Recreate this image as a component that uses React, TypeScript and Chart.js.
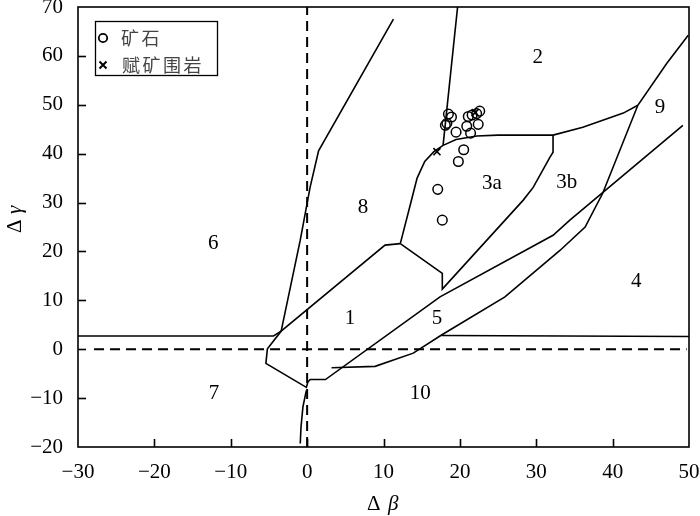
import React, { useEffect, useRef } from "react";
import { Chart, registerables } from "chart.js";

Chart.register(...registerables);

// ---- axes ----
const X_MIN = -30;
const X_MAX = 50;
const Y_MIN = -20;
const Y_MAX = 70;
const TICK_STEP = 10;

// ---- samples ----
const oreX = [18.5, 18.9, 18.1, 18.3, 19.5, 21.1, 21.6, 22.2, 22.6, 22.4, 20.9, 21.4, 20.5, 19.8, 17.1, 17.7];
const oreY = [48.1, 47.5, 45.8, 46.2, 44.4, 47.6, 47.9, 48.2, 48.7, 46.0, 45.6, 44.2, 40.8, 38.4, 32.7, 26.4];
const rockX = [17.0, 22.0];
const rockY = [40.4, 48.4];

// ---- boundary lines ----
const lineAX = [11.3, 1.5, 0.4, -0.9, -3.4];
const lineAY = [67.5, 40.6, 33.2, 22.3, 3.7];
const line7TopX = [-30, -4.4, -3.4];
const line7TopY = [2.7, 2.7, 3.7];
const lineD1X = [12.2, 10.2, -3.4, -5.2, -5.4, -0.1, 0.1, 0.4, 2.4, 17.4, 32.2, 34.4, 49.2];
const lineD1Y = [21.6, 21.3, 3.7, 0.1, -2.9, -7.8, -6.7, -6.2, -6.2, 10.7, 23.3, 26.4, 45.8];
const lineVX = [12.2, 17.7, 17.7, 28.3, 29.6, 31.8, 32.2, 32.2];
const lineVY = [21.6, 15.5, 12.3, 30.5, 33.1, 39.3, 40.3, 43.8];
const lineTopX = [17.8, 19.5, 22.2, 25.0, 32.2, 36.1, 41.4, 43.3];
const lineTopY = [41.7, 42.9, 43.6, 43.8, 43.8, 45.4, 48.3, 49.9];
const line3aLeftX = [17.8, 16.6, 15.4, 14.4, 13.5, 12.2];
const line3aLeftY = [41.7, 40.4, 38.4, 35.0, 29.5, 21.6];
const lineVertX = [19.7, 17.8];
const lineVertY = [70, 41.7];
const line10TopX = [3.2, 8.9, 13.9, 17.6, 25.9, 33.1, 36.4, 38.7, 43.3, 47.1, 49.9];
const line10TopY = [-3.8, -3.5, -0.8, 2.9, 10.7, 20.2, 25.0, 31.9, 49.9, 58.5, 64.2];
const line4BottomX = [17.6, 50];
const line4BottomY = [2.8, 2.6];
const line7CurveX = [-0.1, -0.55, -0.8, -0.9];
const line7CurveY = [-8.4, -11.8, -15.9, -19.3];
const dashVX = [0, 0];
const dashVY = [-20, 70];
const dashHX = [-27.9, 49.7];
const dashHY = [0, 0];

// ---- region labels ----
const regionNames = ["2", "9", "3a", "3b", "8", "6", "4", "1", "5", "7", "10"];
const regionX = [30.2, 46.2, 24.2, 34.0, 7.3, -12.3, 43.1, 5.6, 17.0, -12.2, 14.8];
const regionY = [59.7, 49.5, 33.9, 34.2, 29.0, 21.7, 13.9, 6.3, 6.3, -9.0, -9.0];

const legendNames = ["矿石", "赋矿围岩"];

const SERIF = "'Liberation Serif', 'Times New Roman', serif";
const CJK = "'Noto Sans CJK SC', sans-serif";

function pts(xs: number[], ys: number[]) {
  return xs.map((x, i) => ({ x, y: ys[i] }));
}

function lineDs(xs: number[], ys: number[], dash: number[] = [], width = 1.6) {
  return {
    data: pts(xs, ys),
    showLine: true,
    borderColor: "#000",
    backgroundColor: "#000",
    borderWidth: width,
    borderDash: dash,
    pointRadius: 0,
    pointHoverRadius: 0,
    tension: 0,
    fill: false,
  };
}

const decoPlugin = {
  id: "deco",
  afterDraw(chart: any) {
    const ctx = chart.ctx as CanvasRenderingContext2D;
    const xs = chart.scales.x;
    const ys = chart.scales.y;
    const { left, right, top, bottom } = chart.chartArea;
    ctx.save();
    // frame
    ctx.strokeStyle = "#000";
    ctx.lineWidth = 1.6;
    ctx.strokeRect(left, top, right - left, bottom - top);
    // inward ticks
    ctx.lineWidth = 1.6;
    for (let v = X_MIN + TICK_STEP; v < X_MAX; v += TICK_STEP) {
      const px = Math.round(xs.getPixelForValue(v)) + 0.5;
      ctx.beginPath();
      ctx.moveTo(px, bottom);
      ctx.lineTo(px, bottom - 8);
      ctx.stroke();
    }
    for (let v = Y_MIN + TICK_STEP; v < Y_MAX; v += TICK_STEP) {
      const py = Math.round(ys.getPixelForValue(v)) + 0.5;
      ctx.beginPath();
      ctx.moveTo(left, py);
      ctx.lineTo(left + 8, py);
      ctx.stroke();
    }
    // region labels
    ctx.fillStyle = "#000";
    ctx.font = `21px ${SERIF}`;
    ctx.textAlign = "center";
    ctx.textBaseline = "middle";
    regionNames.forEach((n, i) => {
      ctx.fillText(n, xs.getPixelForValue(regionX[i]), ys.getPixelForValue(regionY[i]));
    });
    // legend
    ctx.lineWidth = 1.3;
    ctx.strokeRect(95.5, 21.5, 122, 54);
    ctx.lineWidth = 1.8;
    ctx.beginPath();
    ctx.arc(103, 38, 4.2, 0, Math.PI * 2);
    ctx.stroke();
    ctx.lineWidth = 2;
    ctx.beginPath();
    ctx.moveTo(99.5, 61.5);
    ctx.lineTo(106.5, 68.5);
    ctx.moveTo(106.5, 61.5);
    ctx.lineTo(99.5, 68.5);
    ctx.stroke();
    ctx.fillStyle = "#444";
    ctx.font = `18px ${CJK}`;
    ctx.textAlign = "left";
    (ctx as any).letterSpacing = "2.5px";
    ctx.fillText(legendNames[0], 121, 38);
    ctx.fillText(legendNames[1], 122, 65);
    (ctx as any).letterSpacing = "0px";
    // axis titles
    ctx.fillStyle = "#000";
    ctx.textBaseline = "alphabetic";
    ctx.font = `21px ${SERIF}`;
    ctx.fillText("Δ", 367, 510);
    ctx.font = `italic 21px ${SERIF}`;
    ctx.fillText("β", 388, 510);
    ctx.translate(21, 233);
    ctx.rotate(-Math.PI / 2);
    ctx.font = `21px ${SERIF}`;
    ctx.fillText("Δ", 0, 0);
    ctx.font = `italic 21px ${SERIF}`;
    ctx.fillText("γ", 19, 0);
    ctx.restore();
  },
};

export default function App() {
  const ref = useRef<HTMLCanvasElement | null>(null);
  useEffect(() => {
    if (!ref.current) return;
    const fmt = (v: any) => {
      const n = Number(v);
      return n < 0 ? "−" + Math.abs(n) : String(n);
    };
    const chart = new Chart(ref.current, {
      type: "scatter",
      data: {
        datasets: [
          lineDs(lineAX, lineAY),
          lineDs(line7TopX, line7TopY),
          lineDs(lineD1X, lineD1Y),
          lineDs(lineVX, lineVY),
          lineDs(lineTopX, lineTopY),
          lineDs(line3aLeftX, line3aLeftY),
          lineDs(lineVertX, lineVertY),
          lineDs(line10TopX, line10TopY),
          lineDs(line4BottomX, line4BottomY),
          lineDs(line7CurveX, line7CurveY),
          lineDs(dashVX, dashVY, [10, 6], 2),
          lineDs(dashHX, dashHY, [10, 6], 2),
          {
            data: pts(oreX, oreY),
            pointStyle: "circle",
            pointRadius: 4.8,
            pointBorderWidth: 1.5,
            borderColor: "#000",
            backgroundColor: "rgba(0,0,0,0)",
            showLine: false,
          },
          {
            data: pts(rockX, rockY),
            pointStyle: "crossRot",
            pointRadius: 5,
            pointBorderWidth: 1.6,
            borderColor: "#000",
            backgroundColor: "#000",
            showLine: false,
          },
        ] as any,
      },
      options: {
        responsive: false,
        animation: false,
        events: [],
        layout: { padding: { left: 0, right: 11, top: 7, bottom: 0 } },
        plugins: { legend: { display: false }, tooltip: { enabled: false } },
        scales: {
          x: {
            type: "linear",
            min: X_MIN,
            max: X_MAX,
            grid: { display: false, drawTicks: false },
            border: { display: false },
            ticks: {
              stepSize: TICK_STEP,
              padding: 13,
              color: "#000",
              font: { family: SERIF, size: 21 },
              callback: fmt,
              maxRotation: 0,
            },
            afterFit: (s: any) => {
              s.height = 69;
              s.paddingLeft = 0;
              s.paddingRight = 0;
            },
          },
          y: {
            type: "linear",
            min: Y_MIN,
            max: Y_MAX,
            grid: { display: false, drawTicks: false },
            border: { display: false },
            ticks: {
              stepSize: TICK_STEP,
              padding: 15,
              color: "#000",
              font: { family: SERIF, size: 21 },
              callback: fmt,
            },
            afterFit: (s: any) => {
              s.width = 78;
              s.paddingTop = 0;
              s.paddingBottom = 0;
            },
          },
        },
      },
      plugins: [decoPlugin],
    });
    return () => chart.destroy();
  }, []);
  return (
    <div style={{ position: "fixed", left: 0, top: 0, width: 700, height: 516, background: "#fff" }}>
      <canvas ref={ref} width={700} height={516} style={{ width: 700, height: 516, display: "block" }} />
    </div>
  );
}
